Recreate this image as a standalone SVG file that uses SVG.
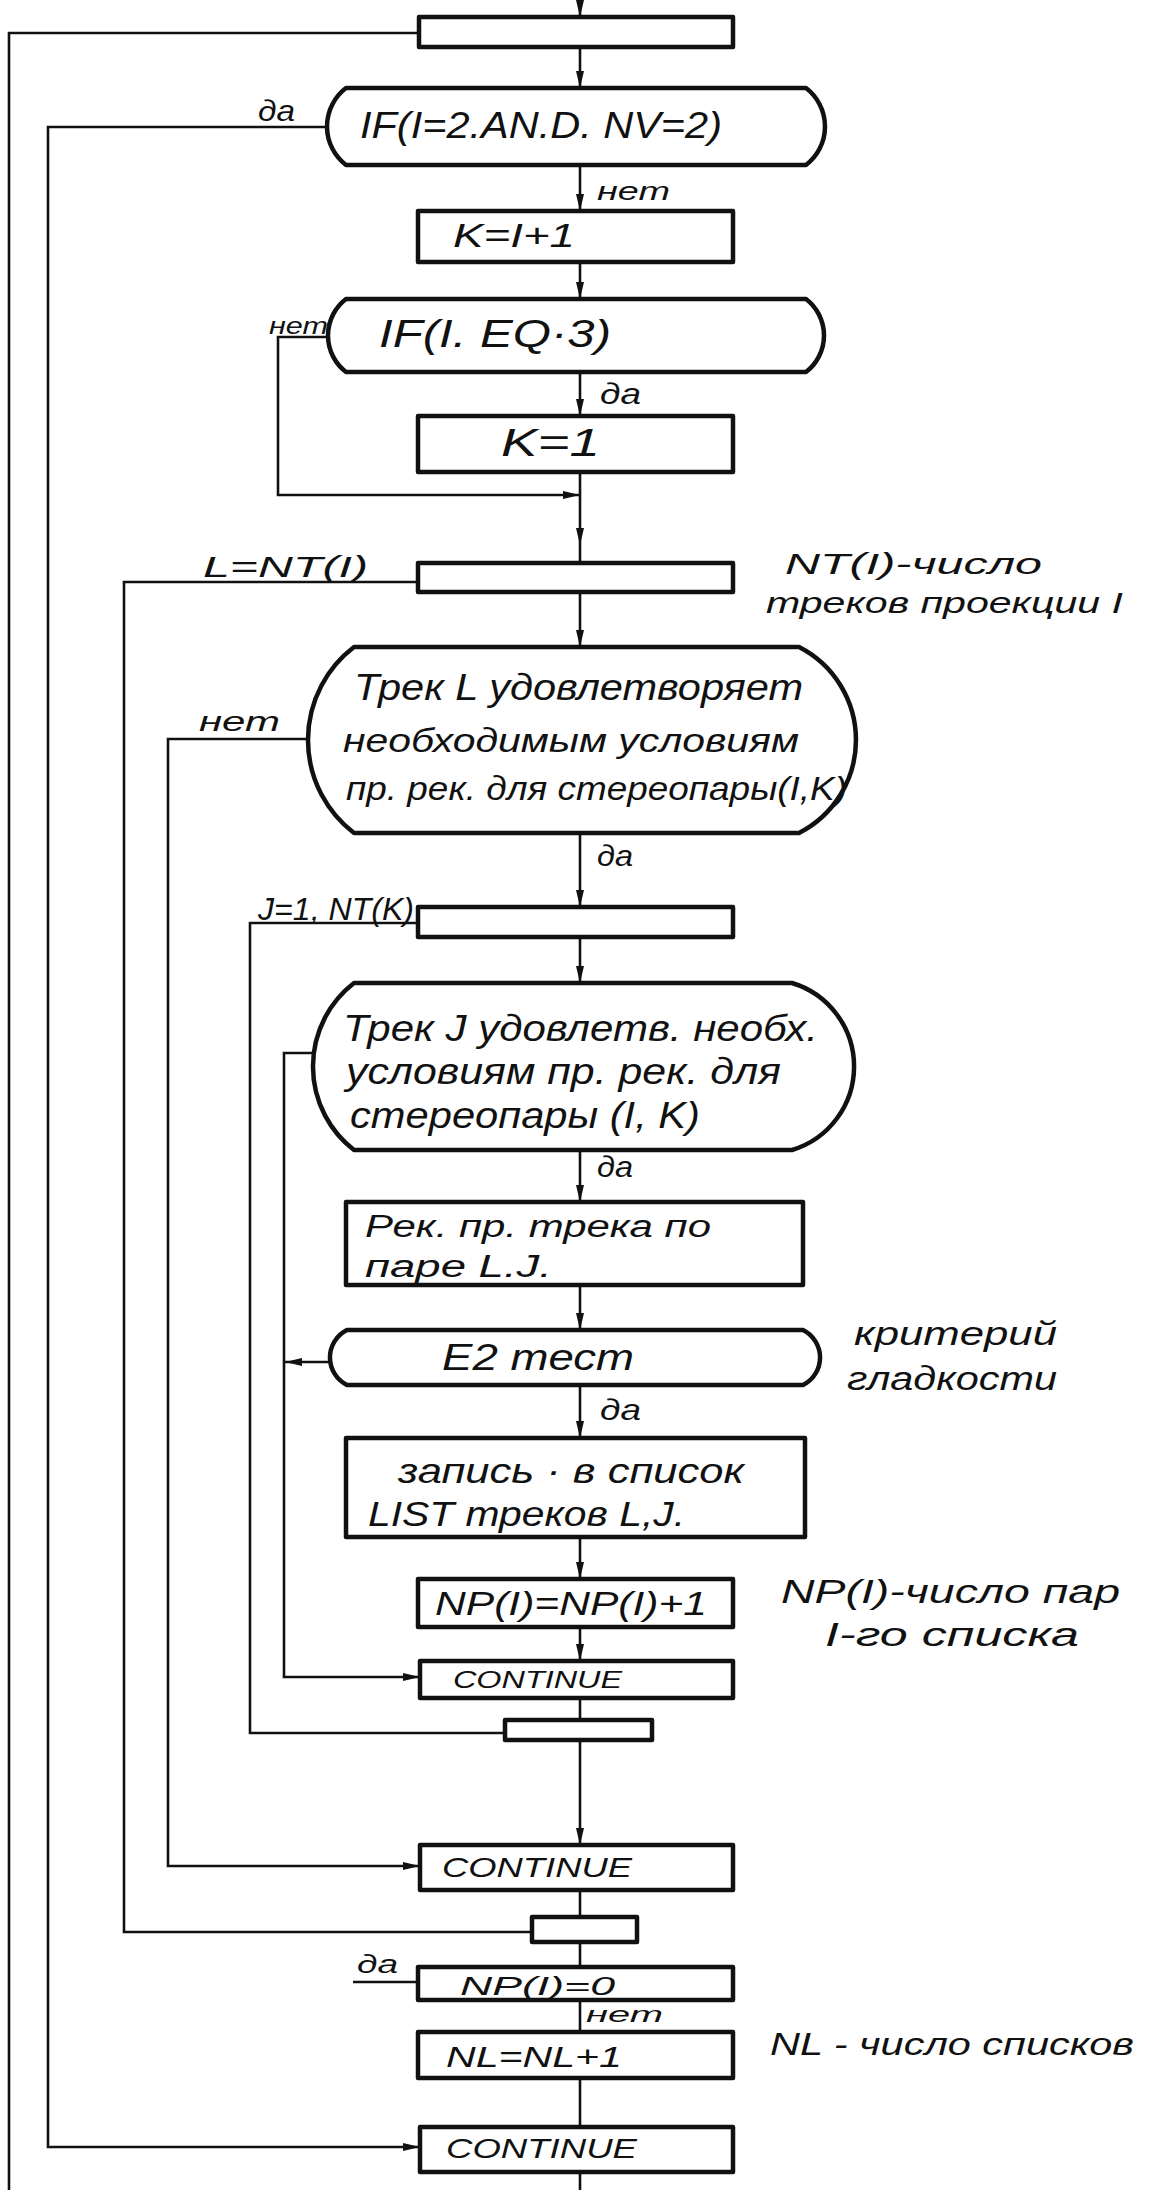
<svg xmlns="http://www.w3.org/2000/svg" width="1155" height="2190" viewBox="0 0 1155 2190">
<defs>
<marker id="arr" markerUnits="userSpaceOnUse" markerWidth="18" markerHeight="10" refX="17" refY="5" orient="auto">
<path d="M0,1 L17,5 L0,9 Z" fill="#111"/>
</marker>
<style>
.box{fill:none;stroke:#111;stroke-width:4.5;stroke-linejoin:round}
.ln{fill:none;stroke:#111;stroke-width:2.6}
.t{font-family:"Liberation Sans","DejaVu Sans",sans-serif;font-style:italic;fill:#111}
</style>
</defs>
<rect width="1155" height="2190" fill="#fff"/>

<g id="connectors">
<line class="ln" x1="580" y1="0" x2="580" y2="17" marker-end="url(#arr)"/>
<line class="ln" x1="580" y1="47" x2="580" y2="88" marker-end="url(#arr)"/>
<line class="ln" x1="580" y1="165" x2="580" y2="211" marker-end="url(#arr)"/>
<line class="ln" x1="580" y1="262" x2="580" y2="299" marker-end="url(#arr)"/>
<line class="ln" x1="580" y1="372" x2="580" y2="416" marker-end="url(#arr)"/>
<line class="ln" x1="580" y1="472" x2="580" y2="545" marker-end="url(#arr)"/>
<line class="ln" x1="580" y1="545" x2="580" y2="563"/>
<line class="ln" x1="580" y1="592" x2="580" y2="647" marker-end="url(#arr)"/>
<line class="ln" x1="580" y1="833" x2="580" y2="907" marker-end="url(#arr)"/>
<line class="ln" x1="580" y1="937" x2="580" y2="983" marker-end="url(#arr)"/>
<line class="ln" x1="580" y1="1150" x2="580" y2="1202" marker-end="url(#arr)"/>
<line class="ln" x1="580" y1="1285" x2="580" y2="1330" marker-end="url(#arr)"/>
<line class="ln" x1="580" y1="1385" x2="580" y2="1438" marker-end="url(#arr)"/>
<line class="ln" x1="580" y1="1537" x2="580" y2="1579" marker-end="url(#arr)"/>
<line class="ln" x1="580" y1="1627" x2="580" y2="1661" marker-end="url(#arr)"/>
<line class="ln" x1="580" y1="1698" x2="580" y2="1720"/>
<line class="ln" x1="580" y1="1740" x2="580" y2="1845" marker-end="url(#arr)"/>
<line class="ln" x1="580" y1="1890" x2="580" y2="1917"/>
<line class="ln" x1="580" y1="1942" x2="580" y2="1967"/>
<line class="ln" x1="580" y1="2000" x2="580" y2="2032"/>
<line class="ln" x1="580" y1="2078" x2="580" y2="2127"/>
<line class="ln" x1="580" y1="2172" x2="580" y2="2190"/>
<polyline class="ln" points="419,33 9,33 9,2190"/>
<polyline class="ln" points="328,127 48,127 48,2147 420,2147" marker-end="url(#arr)"/>
<polyline class="ln" points="330,337 278,337 278,495 580,495" marker-end="url(#arr)"/>
<polyline class="ln" points="418,582 124,582 124,1932 532,1932"/>
<polyline class="ln" points="308,739 168,739 168,1866 420,1866" marker-end="url(#arr)"/>
<polyline class="ln" points="418,923 250,923 250,1733 505,1733"/>
<polyline class="ln" points="313,1053 284,1053 284,1677 420,1677" marker-end="url(#arr)"/>
<line class="ln" x1="330" y1="1362" x2="285" y2="1362" marker-end="url(#arr)"/>
<line class="ln" x1="353" y1="1982" x2="418" y2="1982"/>
</g>

<g id="n_loop_outer"><rect class="box" x="419" y="17" width="314" height="30"/></g>

<g id="n_if1">
<path class="box" d="M346,88 H806 A48.5,48.5 0 0 1 806,165 H346 A48.5,48.5 0 0 1 346,88 Z"/>
<text class="t" x="360" y="138" font-size="36" textLength="362" lengthAdjust="spacingAndGlyphs">IF(I=2.AN.D. NV=2)</text>
<text class="t" x="258" y="121" font-size="30" textLength="37" lengthAdjust="spacingAndGlyphs">да</text>
<text class="t" x="597" y="200" font-size="26" textLength="73" lengthAdjust="spacingAndGlyphs">нет</text>
</g>

<g id="n_k_i1">
<rect class="box" x="418" y="211" width="315" height="51"/>
<text class="t" x="453" y="247" font-size="34" textLength="122" lengthAdjust="spacingAndGlyphs">K=I+1</text>
</g>

<g id="n_if2">
<path class="box" d="M346,299 H806 A46,46 0 0 1 806,372 H346 A46,46 0 0 1 346,299 Z"/>
<text class="t" x="379" y="347" font-size="38" textLength="232" lengthAdjust="spacingAndGlyphs">IF(I. EQ·3)</text>
<text class="t" x="269" y="334" font-size="24" textLength="59" lengthAdjust="spacingAndGlyphs">нет</text>
<text class="t" x="600" y="404" font-size="30" textLength="41" lengthAdjust="spacingAndGlyphs">да</text>
</g>

<g id="n_k1">
<rect class="box" x="418" y="416" width="315" height="56"/>
<text class="t" x="501" y="456" font-size="38" textLength="99" lengthAdjust="spacingAndGlyphs">K=1</text>
</g>

<g id="n_loop_l">
<rect class="box" x="418" y="563" width="315" height="29"/>
<text class="t" x="203" y="577" font-size="30" textLength="165" lengthAdjust="spacingAndGlyphs">L=NT(I)</text>
<text class="t" x="785" y="574" font-size="30" textLength="257" lengthAdjust="spacingAndGlyphs">NT(I)-число</text>
<text class="t" x="766" y="613" font-size="30" textLength="357" lengthAdjust="spacingAndGlyphs">треков проекции I</text>
</g>

<g id="n_dec_l">
<path class="box" d="M354,647 H799 A104.4,104.4 0 0 1 799,833 H354 A117,117 0 0 1 354,647 Z"/>
<text class="t" x="354" y="700" font-size="36" textLength="449" lengthAdjust="spacingAndGlyphs">Трек L удовлетворяет</text>
<text class="t" x="343" y="752" font-size="34" textLength="456" lengthAdjust="spacingAndGlyphs">необходимым условиям</text>
<text class="t" x="346" y="800" font-size="34" textLength="501" lengthAdjust="spacingAndGlyphs">пр. рек. для стереопары(I,K)</text>
<text class="t" x="199" y="731" font-size="28" textLength="81" lengthAdjust="spacingAndGlyphs">нет</text>
<text class="t" x="597" y="866" font-size="30" textLength="36" lengthAdjust="spacingAndGlyphs">да</text>
</g>

<g id="n_loop_j">
<rect class="box" x="418" y="907" width="315" height="30"/>
<text class="t" x="258" y="920" font-size="32" textLength="156" lengthAdjust="spacingAndGlyphs">J=1, NT(K)</text>
</g>

<g id="n_dec_j">
<path class="box" d="M354,983 H792 A87.2,87.2 0 0 1 792,1150 H354 A105.5,105.5 0 0 1 354,983 Z"/>
<text class="t" x="343" y="1041" font-size="36" textLength="475" lengthAdjust="spacingAndGlyphs">Трек J удовлетв. необх.</text>
<text class="t" x="346" y="1084" font-size="36" textLength="435" lengthAdjust="spacingAndGlyphs">условиям пр. рек. для</text>
<text class="t" x="350" y="1128" font-size="36" textLength="350" lengthAdjust="spacingAndGlyphs">стереопары (I, K)</text>
<text class="t" x="597" y="1177" font-size="30" textLength="36" lengthAdjust="spacingAndGlyphs">да</text>
</g>

<g id="n_rec">
<rect class="box" x="346" y="1202" width="457" height="83"/>
<text class="t" x="365" y="1237" font-size="31" textLength="346" lengthAdjust="spacingAndGlyphs">Рек. пр. трека по</text>
<text class="t" x="365" y="1277" font-size="31" textLength="187" lengthAdjust="spacingAndGlyphs">паре L.J.</text>
</g>

<g id="n_e2">
<path class="box" d="M347,1330 H803 A30.7,30.7 0 0 1 803,1385 H347 A30.7,30.7 0 0 1 347,1330 Z"/>
<text class="t" x="442" y="1370" font-size="36" textLength="192" lengthAdjust="spacingAndGlyphs">E2 тест</text>
<text class="t" x="854" y="1345" font-size="33" textLength="203" lengthAdjust="spacingAndGlyphs">критерий</text>
<text class="t" x="847" y="1390" font-size="33" textLength="210" lengthAdjust="spacingAndGlyphs">гладкости</text>
<text class="t" x="600" y="1420" font-size="30" textLength="41" lengthAdjust="spacingAndGlyphs">да</text>
</g>

<g id="n_list">
<rect class="box" x="346" y="1438" width="459" height="99"/>
<text class="t" x="398" y="1483" font-size="35" textLength="346" lengthAdjust="spacingAndGlyphs">запись · в список</text>
<text class="t" x="368" y="1526" font-size="35" textLength="317" lengthAdjust="spacingAndGlyphs">LIST треков L,J.</text>
</g>

<g id="n_np_inc">
<rect class="box" x="418" y="1579" width="315" height="48"/>
<text class="t" x="435" y="1615" font-size="34" textLength="272" lengthAdjust="spacingAndGlyphs">NP(I)=NP(I)+1</text>
<text class="t" x="781" y="1603" font-size="33" textLength="339" lengthAdjust="spacingAndGlyphs">NP(I)-число пар</text>
<text class="t" x="825" y="1646" font-size="33" textLength="254" lengthAdjust="spacingAndGlyphs">I-го списка</text>
</g>

<g id="n_cont_j">
<rect class="box" x="420" y="1661" width="313" height="37"/>
<text class="t" x="453" y="1688" font-size="24" textLength="169" lengthAdjust="spacingAndGlyphs">CONTINUE</text>
</g>

<g id="n_end_j"><rect class="box" x="505" y="1720" width="147" height="20"/></g>

<g id="n_cont_l">
<rect class="box" x="420" y="1845" width="313" height="45"/>
<text class="t" x="442" y="1877" font-size="28" textLength="190" lengthAdjust="spacingAndGlyphs">CONTINUE</text>
</g>

<g id="n_end_l"><rect class="box" x="532" y="1917" width="105" height="25"/></g>

<g id="n_np0">
<rect class="box" x="418" y="1967" width="315" height="33"/>
<text class="t" x="460" y="1995" font-size="26" textLength="155" lengthAdjust="spacingAndGlyphs">NP(I)=0</text>
<text class="t" x="357" y="1973" font-size="26" textLength="41" lengthAdjust="spacingAndGlyphs">да</text>
<text class="t" x="586" y="2022" font-size="22" textLength="77" lengthAdjust="spacingAndGlyphs">нет</text>
</g>

<g id="n_nl">
<rect class="box" x="418" y="2032" width="315" height="46"/>
<text class="t" x="446" y="2067" font-size="30" textLength="176" lengthAdjust="spacingAndGlyphs">NL=NL+1</text>
<text class="t" x="770" y="2055" font-size="32" textLength="364" lengthAdjust="spacingAndGlyphs">NL - число списков</text>
</g>

<g id="n_cont_outer">
<rect class="box" x="420" y="2127" width="313" height="45"/>
<text class="t" x="446" y="2158" font-size="28" textLength="191" lengthAdjust="spacingAndGlyphs">CONTINUE</text>
</g>
</svg>
